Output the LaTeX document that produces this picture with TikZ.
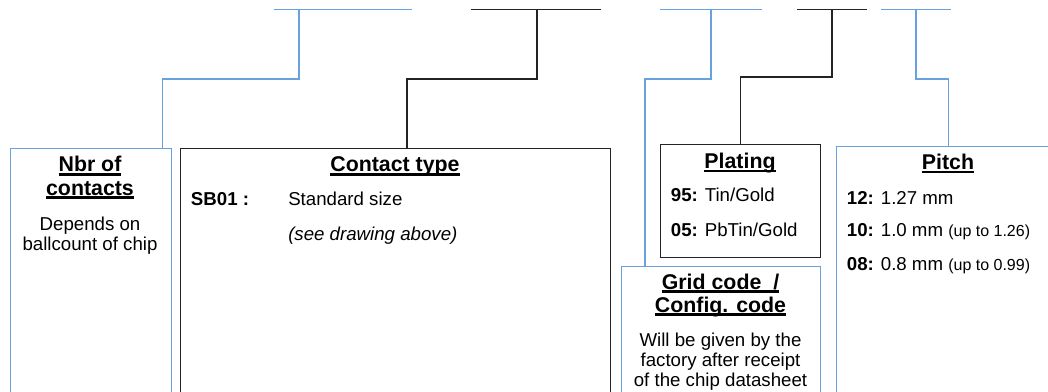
\documentclass[tikz,border=0pt]{standalone}
\usepackage{fontspec}
\setmainfont{Liberation Sans}
\usepackage{xcolor}
\usetikzlibrary{calc}

\definecolor{linkblue}{RGB}{104,162,222}
\definecolor{boxgray}{RGB}{35,35,35}

% underlined heading line
\newcommand{\boxtitle}[1]{\setbox0\hbox{#1}\rlap{\rule[-0.19em]{\wd0}{0.12em}}\box0}

\tikzset{
  bluelink/.style={draw=linkblue,line width=1.1pt},
  blacklink/.style={draw=boxgray,line width=1.1pt},
  bluebox/.style={draw=linkblue,line width=1.1pt,rectangle,anchor=north west,inner sep=0pt},
  blackbox/.style={draw=boxgray,line width=1.1pt,rectangle,anchor=north west,inner sep=0pt},
  titletext/.style={font=\bfseries\fontsize{16}{17.25}\selectfont,align=center,anchor=base,inner sep=0pt},
  bodytext/.style={font=\fontsize{14}{15}\selectfont,align=center,anchor=base,inner sep=0pt},
  itemtext/.style={font=\fontsize{14}{15}\selectfont,anchor=base west,inner sep=0pt}
}

\begin{document}
\begin{tikzpicture}[x=0.75pt,y=-0.75pt]
        \def\pxl{0.75pt}
        \def\ymax{420}

        \clip (0,0) rectangle (1048,392);

        %------------------
        % boxes
        %------------------

        \node[bluebox,minimum width={161.5*\pxl},minimum height={(\ymax-148)*\pxl}] (nbr) at (9.5,148) {};
        \node[blackbox,minimum width={430*\pxl},minimum height={(\ymax-148)*\pxl}] (contact) at (180,148) {};
        \node[blackbox,minimum width={160*\pxl},minimum height={112.7*\pxl}] (plating) at (660,144) {};
        \node[bluebox,minimum width={199*\pxl},minimum height={(\ymax-266)*\pxl}] (grid) at (621,266) {};
        \node[bluebox,minimum width={224*\pxl},minimum height={(\ymax-146)*\pxl}] (pitch) at (836,146) {};

        %------------------
        % code segments
        %------------------

        \coordinate (segA) at (299,9.5);
        \coordinate (segB) at (537,9.5);
        \coordinate (segC) at (711,9.5);
        \coordinate (segD) at (832,9.5);
        \coordinate (segE) at (916,9.5);

        \draw[bluelink] (segA) ++(-25,0) -- ++(138,0);
        \draw[blacklink] (segB) ++(-66,0) -- ++(130,0);
        \draw[bluelink] (segC) ++(-51,0) -- ++(102,0);
        \draw[blacklink] (segD) ++(-35,0) -- ++(70,0);
        \draw[bluelink] (segE) ++(-35,0) -- ++(70,0);

        %------------------
        % connectors
        %------------------

        \draw[bluelink] (segA) -- ++(0,69.5) -| ($(nbr.north east)+(-10,0)$);
        \draw[blacklink] (segB) -- ++(0,69.5) -| ($(contact.north west)+(227,0)$);
        \draw[bluelink] (segC) -- ++(0,69.5) -| ($(grid.north west)+(24,0)$);
        \draw[blacklink] (segD) -- ++(0,67.5) -| (plating.north);
        \draw[bluelink] (segE) -- ++(0,69.5) -| (pitch.north);

        %------------------
        % texts
        %------------------

        % Nbr of contacts (base = last line)
        \node[titletext] (nbrtitle) at (90,195) {\boxtitle{Nbr of}\\\boxtitle{contacts}};
        \node[bodytext] (nbrbody) at (90,250) {Depends on\\ballcount of chip};

        % Contact type
        \node[titletext] (contacttitle) at (395,171.7) {\boxtitle{Contact type}};
        \node[itemtext] (sbcode) at (190.7,205.7) {\textbf{SB01 :}};
        \node[itemtext] (sbsize) at (288,205.7) {Standard size};
        \node[itemtext] (sbnote) at (288,240) {\itshape (see drawing above)};

        % Plating
        \node[titletext] (platingtitle) at (740,168.3) {\boxtitle{Plating}};
        \node[itemtext] (platingA) at (670.7,201.7) {\textbf{95:} Tin/Gold};
        \node[itemtext] (platingB) at (670.7,236) {\textbf{05:} PbTin/Gold};

        % Grid code
        \node[titletext] (gridtitle) at (720.5,312) {\boxtitle{Grid code\ \ /}\\\boxtitle{Config. code}};
        \node[bodytext] (gridbody) at (720.5,386.7) {Will be given by the\\factory after receipt\\of the chip datasheet};

        % Pitch
        \node[titletext] (pitchtitle) at (948,169.3) {\boxtitle{Pitch}};
        \node[itemtext] (pitchA) at (846.7,204) {\textbf{12:} 1.27 mm};
        \node[itemtext] (pitchB) at (846.7,236.7) {\textbf{10:} 1.0 mm {\fontsize{12}{14}\selectfont(up to 1.26)}};
        \node[itemtext] (pitchC) at (846.7,270.7) {\textbf{08:} 0.8 mm {\fontsize{12}{14}\selectfont(up to 0.99)}};
      \end{tikzpicture}
\end{document}
